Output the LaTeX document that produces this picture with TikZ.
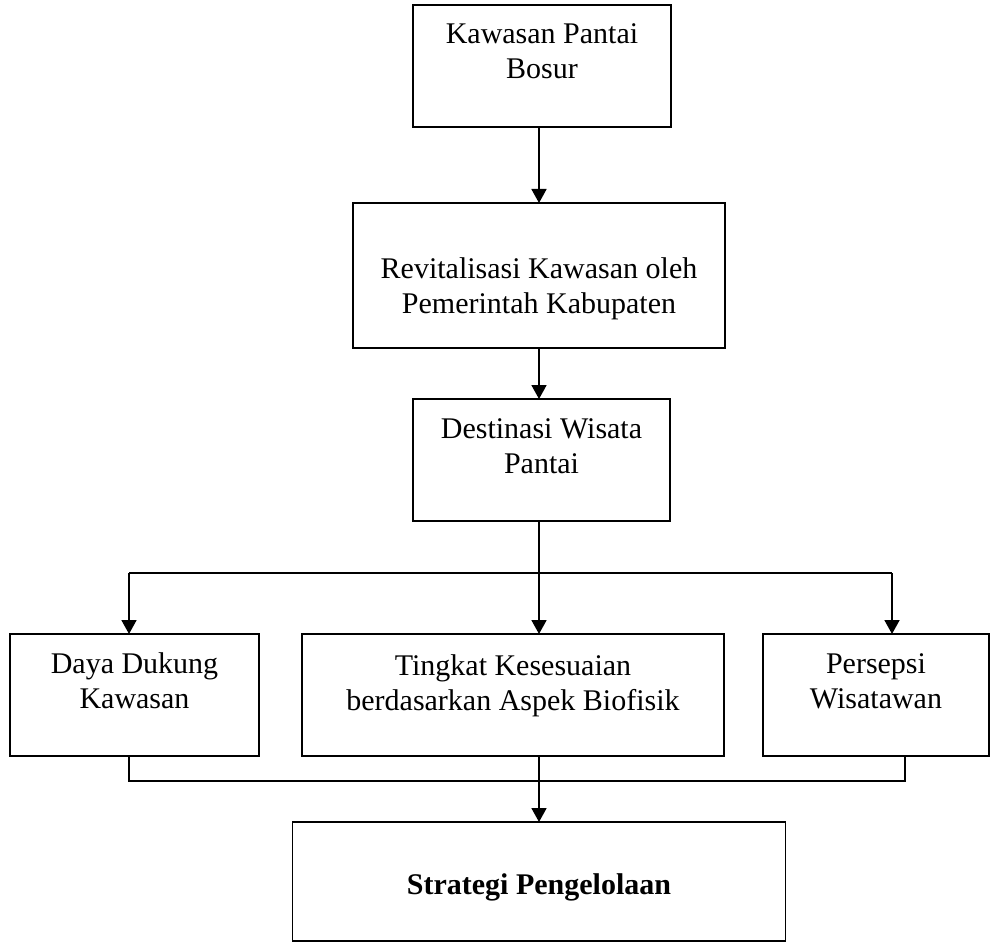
\documentclass[tikz,border=0pt]{standalone}
\usepackage{fontspec}
\setmainfont{Liberation Serif}
\usetikzlibrary{arrows.meta,calc}
\begin{document}
\begin{tikzpicture}[x=1pt,y=-1pt,
  box/.style={draw=black,line width=1.8pt,inner sep=0pt,outer sep=0pt},
  txt/.style={align=center,inner sep=0pt,font=\fontsize{30}{35}\selectfont,anchor=base},
  arr/.style={line width=1.8pt,-{Triangle[width=15pt,length=14pt]}},
  ln/.style={line width=1.8pt}]
\useasboundingbox (0,0) rectangle (990,944);
\fill[white] (0,0) rectangle (990,944);
% boxes
\node[box,minimum width=258pt,minimum height=122pt] (b1) at (542,66) {};
\node[box,minimum width=372pt,minimum height=145pt] (b2) at (539,275.5) {};
\node[box,minimum width=257pt,minimum height=122pt] (b3) at (541.5,460) {};
\node[box,minimum width=249pt,minimum height=122pt] (b4) at (134.5,695) {};
\node[box,minimum width=422pt,minimum height=122pt] (b5) at (513,695) {};
\node[box,minimum width=226pt,minimum height=122pt] (b6) at (876,695) {};
\node[box,minimum width=493pt,minimum height=119pt] (b7) at (539,881.5) {};
% texts (base anchor = baseline of last line)
\node[txt] (t1) at ($(b1.north)+(0,74)$) {Kawasan Pantai\\Bosur};
\node[txt] (t2) at ($(b2.north)+(0,110)$) {Revitalisasi Kawasan oleh\\Pemerintah Kabupaten};
\node[txt] (t3) at ($(b3.north)+(0,74)$) {Destinasi Wisata\\Pantai};
\node[txt] (t4) at ($(b4.north)+(0,74)$) {Daya Dukung\\Kawasan};
\node[txt] (t5) at ($(b5.north)+(0,76)$) {Tingkat Kesesuaian\\berdasarkan Aspek Biofisik};
\node[txt] (t6) at ($(b6.north)+(0,74)$) {Persepsi\\Wisatawan};
\node[txt,font=\fontsize{30}{35}\selectfont\bfseries] (t7) at ($(b7.north)+(0,72)$) {Strategi Pengelolaan};
% connectors
\coordinate (L) at (129,573);
\coordinate (R) at (892,573);
\coordinate (BL) at (129,781);
\coordinate (BR) at (905,781);
\draw[arr] (b2.north |- b1.south) -- (b2.north);
\draw[arr] (b2.south) -- (b2.south |- b3.north);
\draw[arr] (b2.south |- b3.south) -- (b2.south |- b5.north);
\draw[ln] (L) -- (R);
\draw[arr] (L) -- (L |- b4.north);
\draw[arr] (R) -- (R |- b6.north);
\draw[ln] (BL |- b4.south) -- (BL) -- (BR) -- (BR |- b6.south);
\draw[arr] (b7.north |- b5.south) -- (b7.north);
\end{tikzpicture}
\end{document}
